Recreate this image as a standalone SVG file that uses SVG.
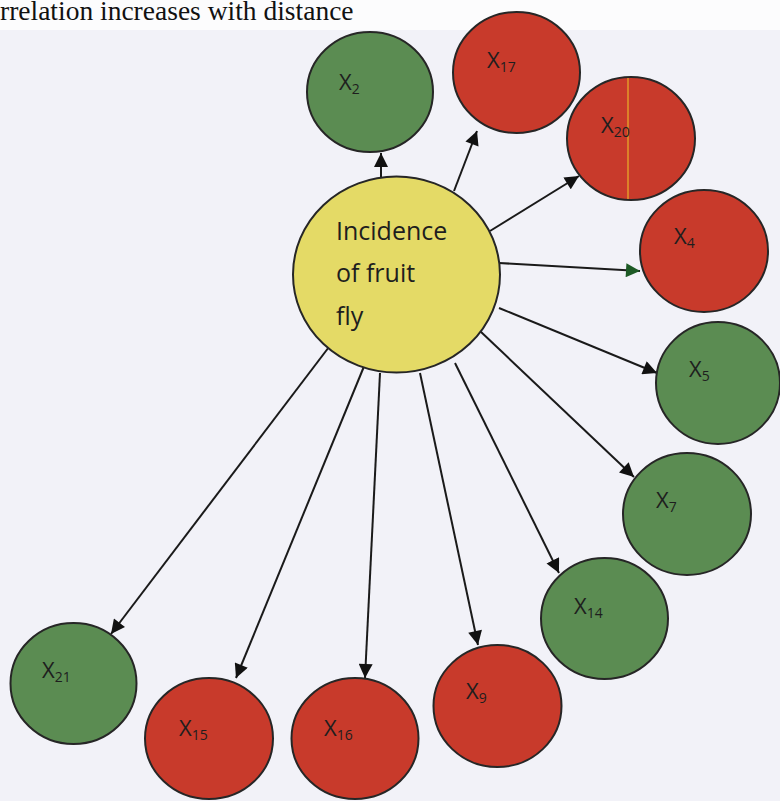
<svg xmlns="http://www.w3.org/2000/svg" width="780" height="801" viewBox="0 0 780 801">
<defs>
<marker id="ah" viewBox="0 0 10 10" refX="10" refY="5" markerWidth="7.5" markerHeight="7" markerUnits="strokeWidth" orient="auto">
<path d="M0,0 L10,5 L0,10 z" fill="#111"/>
</marker>
<marker id="ahg" viewBox="0 0 10 10" refX="10" refY="5" markerWidth="7.5" markerHeight="7" markerUnits="strokeWidth" orient="auto">
<path d="M0,0 L10,5 L0,10 z" fill="#1d5a25"/>
</marker>
<style>
.n{stroke:#262626;stroke-width:2}
.g{fill:#5b8c52}
.r{fill:#c83a2b}
.y{fill:#e4da66}
.lbl{font-family:"Open Sans","Liberation Sans",sans-serif;font-size:22px;fill:#1e1e1e}
.sub{font-size:14px}
.ctr{font-family:"Open Sans","Liberation Sans",sans-serif;font-size:25px;fill:#1e1e1e}
.c line{stroke:#1a1a1a;stroke-width:2;marker-end:url(#ah)}
</style>
</defs>
<rect width="780" height="801" fill="#f2f2f8"/>
<rect width="780" height="30" fill="#fcfcfd"/>
<text x="0" y="20" font-family="Liberation Serif,serif" font-size="27.5" fill="#111">rrelation increases with distance</text>

<g class="c" id="connectors">
<line x1="381" y1="177" x2="381" y2="153"/>
<line x1="454" y1="191" x2="477" y2="131"/>
<line x1="490" y1="231" x2="579" y2="176"/>
<line x1="499" y1="263" x2="640" y2="271" style="marker-end:url(#ahg)"/>
<line x1="499" y1="308" x2="657" y2="373"/>
<line x1="480" y1="331" x2="634" y2="477"/>
<line x1="455" y1="363" x2="559" y2="573"/>
<line x1="420" y1="373" x2="478" y2="645"/>
<line x1="380" y1="373" x2="365" y2="678"/>
<line x1="365" y1="364" x2="236" y2="678"/>
<line x1="332" y1="343" x2="111" y2="634"/>
</g>

<g id="center">
<ellipse class="n y" cx="396.5" cy="274.5" rx="103.5" ry="98"/>
<text class="ctr" x="336" y="240">Incidence</text>
<text class="ctr" x="336" y="282">of fruit</text>
<text class="ctr" x="336" y="325">fly</text>
</g>

<g id="x2"><ellipse class="n g" cx="370" cy="92" rx="63" ry="60"/><text class="lbl" x="339" y="90">X<tspan class="sub" dy="4">2</tspan></text></g>
<g id="x17"><ellipse class="n r" cx="516.5" cy="72.5" rx="63.5" ry="60.5"/><text class="lbl" x="487" y="68">X<tspan class="sub" dy="4">17</tspan></text></g>
<g id="x20"><ellipse class="n r" cx="631" cy="138.5" rx="64" ry="61.5"/><line x1="628" y1="78" x2="628" y2="199" stroke="#e39a2a" stroke-width="1.5"/><text class="lbl" x="601" y="133">X<tspan class="sub" dy="4">20</tspan></text></g>
<g id="x4"><ellipse class="n r" cx="704" cy="251" rx="64" ry="61"/><text class="lbl" x="674" y="244">X<tspan class="sub" dy="4">4</tspan></text></g>
<g id="x5"><ellipse class="n g" cx="718" cy="383" rx="62" ry="61"/><text class="lbl" x="689" y="377">X<tspan class="sub" dy="4">5</tspan></text></g>
<g id="x7"><ellipse class="n g" cx="687" cy="514" rx="64" ry="61"/><text class="lbl" x="656" y="508">X<tspan class="sub" dy="4">7</tspan></text></g>
<g id="x14"><ellipse class="n g" cx="604.5" cy="618.5" rx="63.5" ry="60.5"/><text class="lbl" x="574" y="614">X<tspan class="sub" dy="4">14</tspan></text></g>
<g id="x9"><ellipse class="n r" cx="497.5" cy="706" rx="64" ry="61"/><text class="lbl" x="466" y="699">X<tspan class="sub" dy="4">9</tspan></text></g>
<g id="x21"><ellipse class="n g" cx="73.5" cy="683.5" rx="63" ry="60.5"/><text class="lbl" x="42" y="678">X<tspan class="sub" dy="4">21</tspan></text></g>
<g id="x15"><ellipse class="n r" cx="209" cy="738.5" rx="64" ry="60.5"/><text class="lbl" x="179" y="736">X<tspan class="sub" dy="4">15</tspan></text></g>
<g id="x16"><ellipse class="n r" cx="355" cy="738.5" rx="63.5" ry="60.5"/><text class="lbl" x="324" y="736">X<tspan class="sub" dy="4">16</tspan></text></g>
</svg>
